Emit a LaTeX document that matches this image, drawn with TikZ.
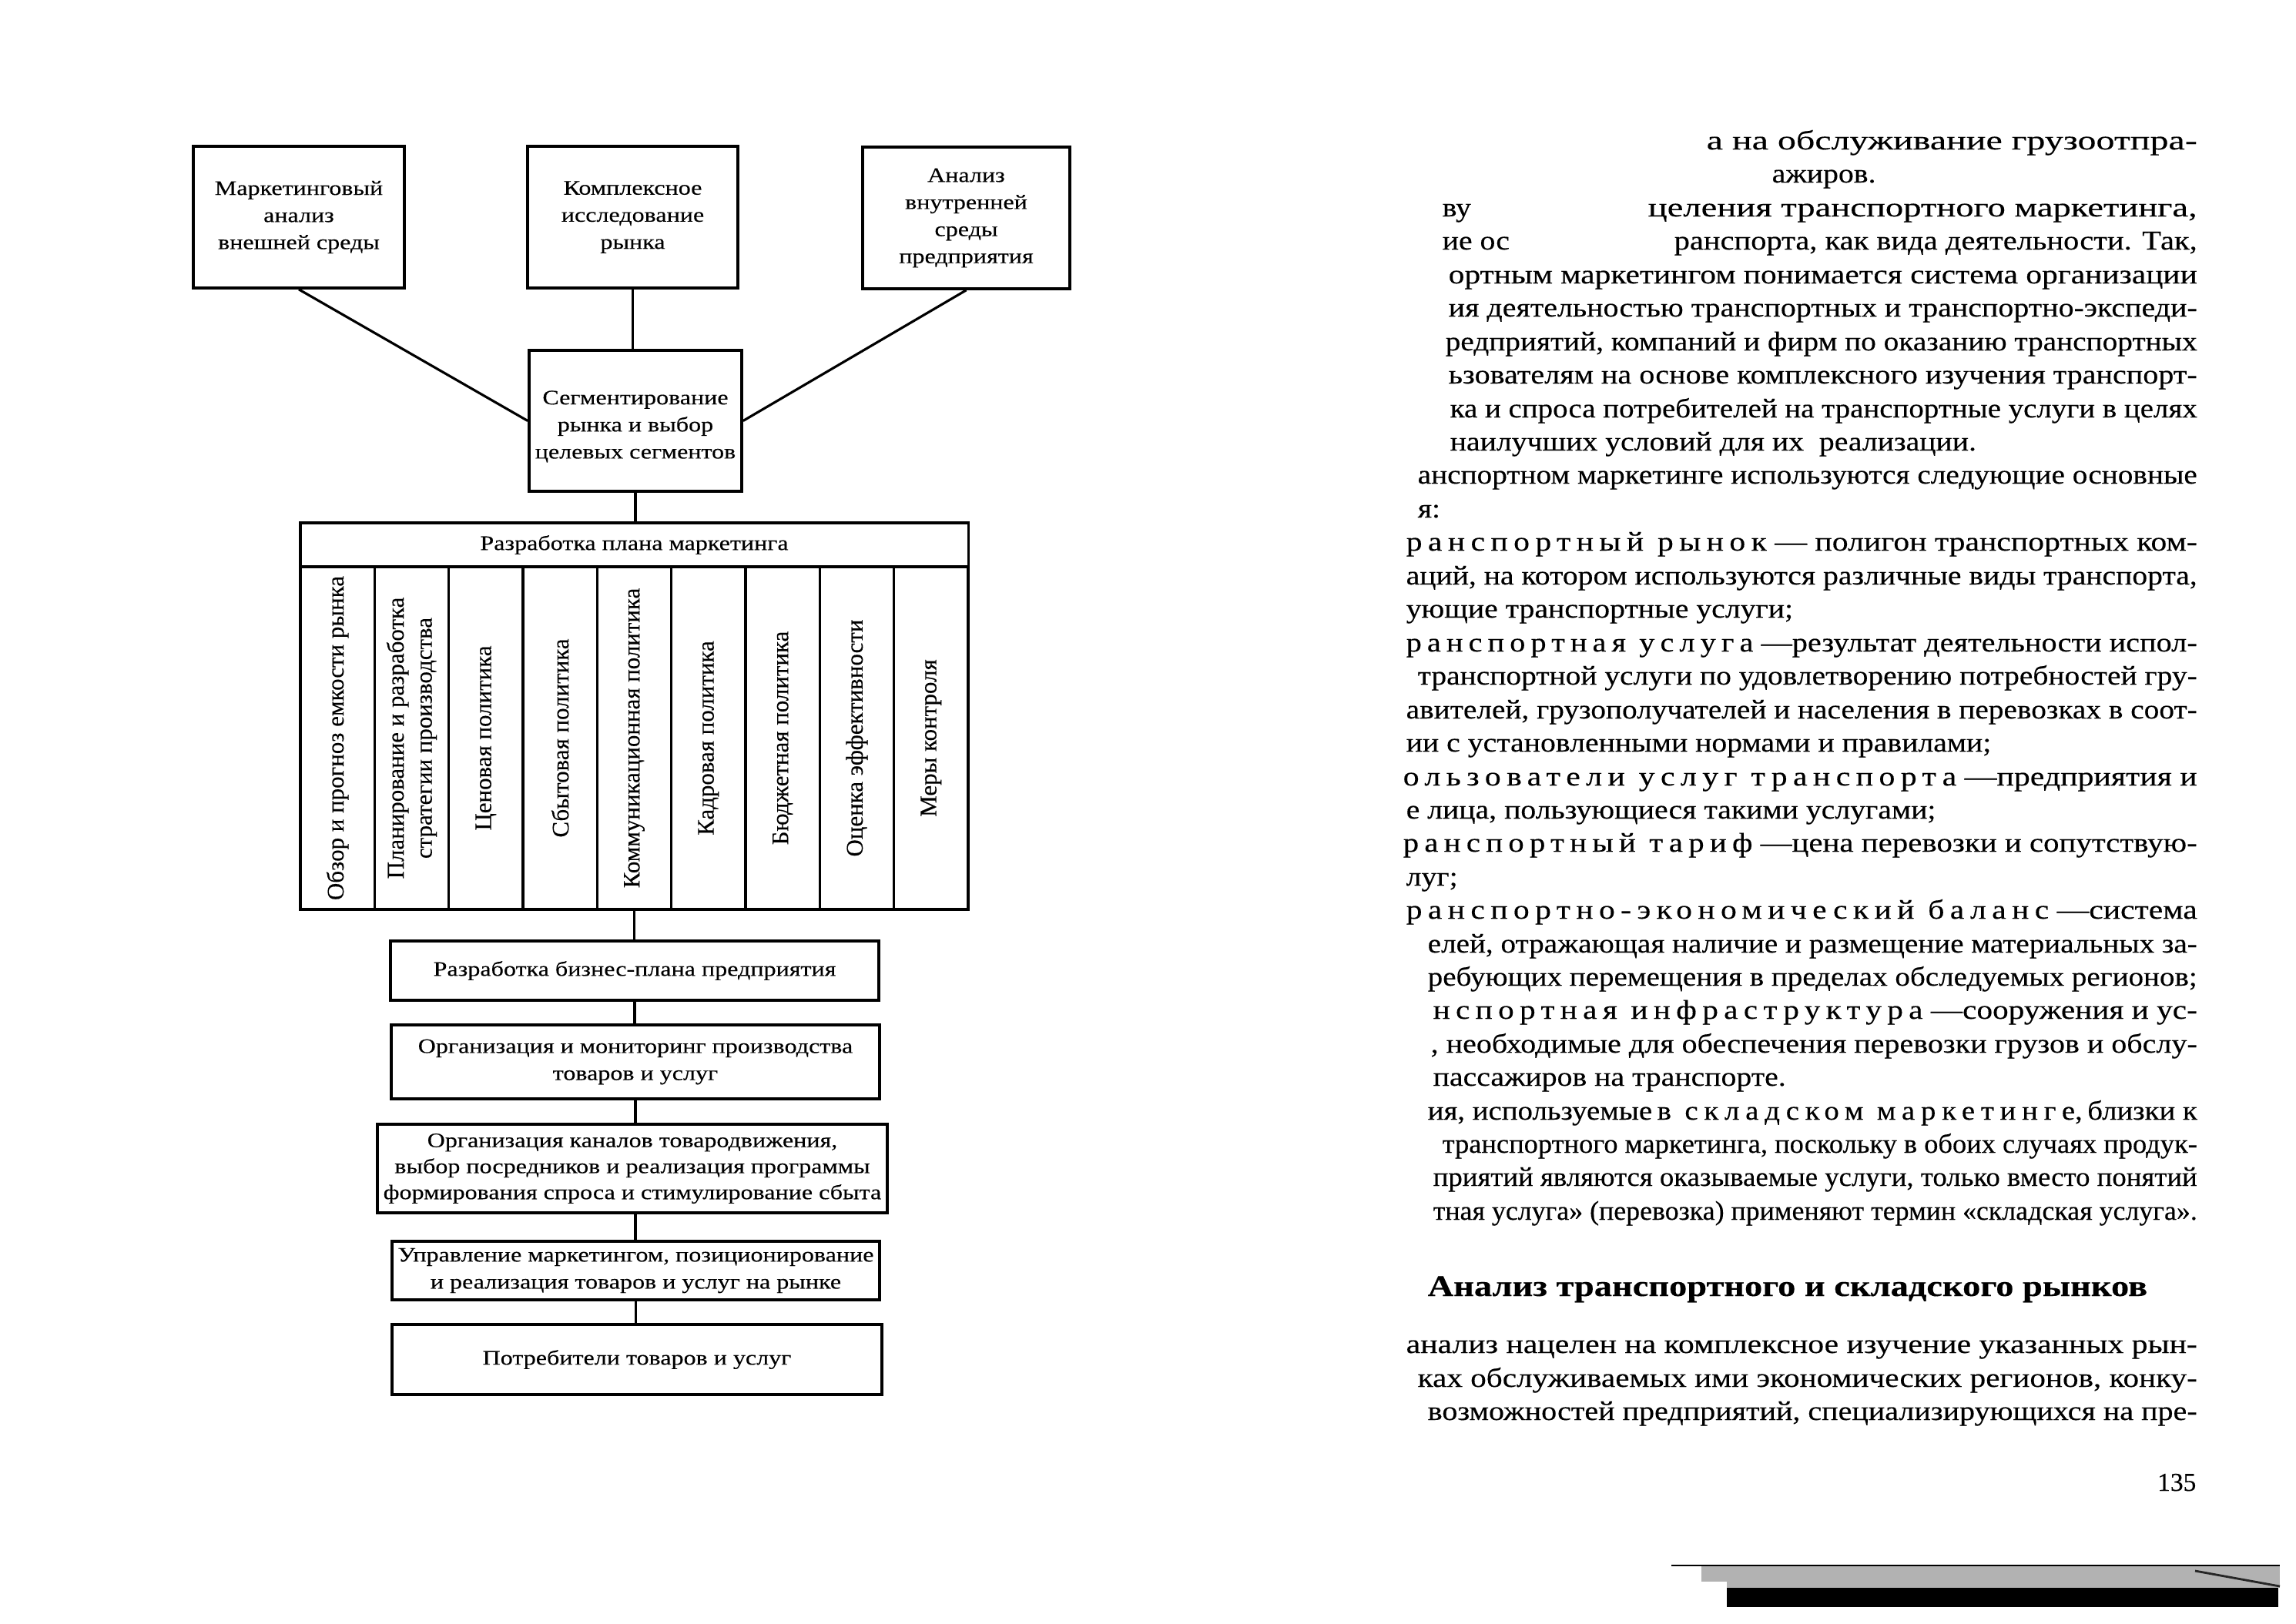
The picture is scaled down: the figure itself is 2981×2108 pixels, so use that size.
\documentclass[tikz,border=0pt]{standalone}
\usepackage{fontspec}
\usepackage{graphicx}
\setmainfont{Liberation Serif}[FakeStretch=1.2, FakeBold=0.25]
\newfontfamily\bodyfont{Liberation Serif}[FakeStretch=1.13, FakeBold=0.3]
\newfontfamily\condfont{Liberation Serif}[FakeBold=0.3]
\newfontfamily\colfont{Liberation Serif}[FakeBold=0.25]
\newcommand\rz[1]{{\addfontfeature{LetterSpace=20}#1}}
\newcommand\jl[4]{\node[bodytxt] (#1) at (#2,#3) {\resizebox{\dimexpr 0.01cm*(2852-#2)\relax}{\height}{#4}};}
\newcommand\jc[4]{\node[cbodytxt] (#1) at (#2,#3) {\resizebox{\dimexpr 0.01cm*(2852-#2)\relax}{\height}{#4}};}
\newcommand\rl[4]{\node[bodytxt] (#1) at (#2,#3) {#4};}
\tikzset{
  box/.style={draw, line width=1pt, inner sep=1pt, align=center, font=\fontsize{7.6}{10}\selectfont},
  boxtxt/.style={inner sep=0pt, align=center, font=\fontsize{7.6}{10}\selectfont},
  col/.style={draw, line width=1pt, inner sep=0pt, minimum width=0.9633cm, minimum height=4.45cm},
  coltxt/.style={rotate=90, inner sep=0pt, align=center, font=\colfont\fontsize{8.8}{10.4}\selectfont},
  conn/.style={line width=0.9pt},
  bodytxt/.style={inner sep=0pt, anchor=base west, font=\bodyfont\fontsize{10}{11}\selectfont},
  cbodytxt/.style={bodytxt, font=\condfont\fontsize{10}{11}\selectfont},
  headtxt/.style={inner sep=0pt, anchor=base west, font=\fontsize{11}{13}\selectfont\bfseries},
  pnum/.style={inner sep=0pt, anchor=base east, font=\condfont\fontsize{9.5}{11}\selectfont}
}
\begin{document}
\begin{tikzpicture}[x=0.01cm,y=-0.01cm]
\fill[white] (0,0) rectangle (2981,2108);
\useasboundingbox (0,0) rectangle (2981,2108);

% ---------- diagram ----------
\node[box, minimum width=2.74cm, minimum height=1.84cm] (b1) at (388,282) {Маркетинговый\\анализ\\внешней среды};
\node[box, minimum width=2.73cm, minimum height=1.84cm] (b2) at (821.5,282) {Комплексное\\исследование\\рынка};
\node[box, minimum width=2.69cm, minimum height=1.84cm] (b3) at (1254.5,283) {Анализ\\внутренней\\среды\\предприятия};
\node[box, minimum width=2.76cm, minimum height=1.83cm] (seg) at (825,546.5) {};
\node[boxtxt] (segt) at (825,554) {Сегментирование\\рынка и выбор\\целевых сегментов};

\node[box, minimum width=8.67cm, minimum height=0.57cm] (hdr) at (823.5,707.5) {Разработка плана маркетинга};

\node[col] (c1) at (438.2,958.5) {};
\node[col] (c2) at (534.5,958.5) {};
\node[col] (c3) at (630.8,958.5) {};
\node[col] (c4) at (727.2,958.5) {};
\node[col] (c5) at (823.5,958.5) {};
\node[col] (c6) at (919.8,958.5) {};
\node[col] (c7) at (1016.2,958.5) {};
\node[col] (c8) at (1112.5,958.5) {};
\node[col] (c9) at (1208.8,958.5) {};
\node[coltxt] (t1) at (c1) {Обзор и прогноз емкости рынка};
\node[coltxt] (t2) at (c2) {Планирование и разработка\\стратегии производства};
\node[coltxt] (t3) at (c3) {Ценовая политика};
\node[coltxt] (t4) at (c4) {Сбытовая политика};
\node[coltxt] (t5) at (c5) {Коммуникационная политика};
\node[coltxt] (t6) at (c6) {Кадровая политика};
\node[coltxt] (t7) at (c7) {Бюджетная политика};
\node[coltxt] (t8) at (c8) {Оценка эффективности};
\node[coltxt] (t9) at (c9) {Меры контроля};

\node[box, minimum width=6.34cm, minimum height=0.77cm] (bp) at (824,1260.5) {Разработка бизнес-плана предприятия};
\node[box, minimum width=6.34cm, minimum height=0.96cm] (org) at (825,1379) {Организация и мониторинг производства\\товаров и услуг};
\node[box, minimum width=6.62cm, minimum height=1.15cm, inner sep=0.5pt, font=\fontsize{7.6}{9.6}\selectfont] (chan) at (821,1517.5) {Организация каналов товародвижения,\\выбор посредников и реализация программы\\формирования спроса и стимулирование сбыта};
\node[box, minimum width=6.33cm, minimum height=0.76cm, inner sep=0.5pt] (mgmt) at (825.5,1650) {Управление маркетингом, позиционирование\\и реализация товаров и услуг на рынке};
\node[box, minimum width=6.36cm, minimum height=0.91cm] (cons) at (827,1765.5) {Потребители товаров и услуг};

\draw[conn] (b1.south) -- (seg.west);
\draw[conn] (b2.south) -- (b2.south |- seg.north);
\draw[conn] (b3.south) -- (seg.east);
\draw[conn] (seg.south) -- (seg.south |- hdr.north);
\draw[conn] (c5.south) -- (c5.south |- bp.north);
\draw[conn] (bp.south) -- (bp.south |- org.north);
\draw[conn] (org.south) -- (org.south |- chan.north);
\draw[conn] (org.south |- chan.south) -- (org.south |- mgmt.north);
\draw[conn] (mgmt.south) -- (mgmt.south |- cons.north);

% ---------- right page text ----------
\jl{r1}{2215}{194}{а на обслуживание грузоотпра-}
\rl{r2}{2300}{237}{ажиров.}
\rl{r3a}{1872}{281}{ву}
\jl{r3b}{2139}{281}{целения транспортного маркетинга,}
\rl{r4a}{1872}{324}{ие ос}
\jl{r4b}{2173}{324}{ранспорта, как вида деятельности. Так,}
\jl{r5}{1880}{368}{ортным маркетингом понимается система организации}
\jl{r6}{1880}{411}{ия деятельностью транспортных и транспортно-экспеди-}
\jl{r7}{1876}{455}{редприятий, компаний и фирм по оказанию транспортных}
\jl{r8}{1880}{498}{ьзователям на основе комплексного изучения транспорт-}
\jl{r9}{1882}{542}{ка и спроса потребителей на транспортные услуги в целях}
\rl{r10}{1882}{585}{наилучших условий для их\ \ реализации.}
\jl{r11}{1840}{628}{анспортном маркетинге используются следующие основные}
\rl{r12}{1840}{672}{я:}
\jl{r13}{1825}{715}{\rz{ранспортный рынок} — полигон транспортных ком-}
\jl{r14}{1825}{759}{аций, на котором используются различные виды транспорта,}
\rl{r15}{1825}{802}{ующие транспортные услуги;}
\jl{r16}{1825}{846}{\rz{ранспортная услуга} —результат деятельности испол-}
\jl{r17}{1840}{889}{транспортной услуги по удовлетворению потребностей гру-}
\jl{r18}{1825}{933}{авителей, грузополучателей и населения в перевозках в соот-}
\rl{r19}{1825}{976}{ии с установленными нормами и правилами;}
\jl{r20}{1821}{1020}{\rz{ользователи услуг транспорта} —предприятия и}
\rl{r21}{1825}{1063}{е лица, пользующиеся такими услугами;}
\jl{r22}{1821}{1106}{\rz{ранспортный тариф} —цена перевозки и сопутствую-}
\rl{r23}{1825}{1150}{луг;}
\jl{r24}{1825}{1193}{\rz{ранспортно-экономический баланс} —система}
\jl{r25}{1853}{1237}{елей, отражающая наличие и размещение материальных за-}
\jl{r26}{1853}{1280}{ребующих перемещения в пределах обследуемых регионов;}
\jl{r27}{1860}{1323}{\rz{нспортная инфраструктура} —сооружения и ус-}
\jl{r28}{1857}{1367}{, необходимые для обеспечения перевозки грузов и обслу-}
\rl{r29}{1860}{1410}{пассажиров на транспорте.}
\jc{r30}{1853}{1454}{ия, используемые\,\rz{в складском маркетинге},\,близки к}
\jc{r31}{1872}{1497}{транспортного маркетинга, поскольку в обоих случаях продук-}
\jc{r32}{1860}{1540}{приятий являются оказываемые услуги, только вместо понятий}
\jc{r33}{1860}{1584}{тная услуга» (перевозка) применяют термин «складская услуга».}
\node[headtxt] (hd) at (1853,1683) {Анализ транспортного и складского рынков};
\jl{r35}{1825}{1757}{анализ нацелен на комплексное изучение указанных рын-}
\jl{r36}{1840}{1801}{ках обслуживаемых ими экономических регионов, конку-}
\jl{r37}{1853}{1844}{возможностей предприятий, специализирующихся на пре-}
\node[pnum] (pn) at (2852,1936) {135};

% ---------- scan edge at the bottom ----------
\fill[gray!60] (2209,2033) rectangle (2960,2054);
\fill[gray!60] (2242,2054) rectangle (2960,2062);
\fill[black] (2242,2062) rectangle (2958,2087);
\draw[line width=0.6pt] (2170,2033) -- (2960,2033);
\draw[gray!30!black, line width=0.8pt] (2850,2040) -- (2960,2060);
\end{tikzpicture}
\end{document}
